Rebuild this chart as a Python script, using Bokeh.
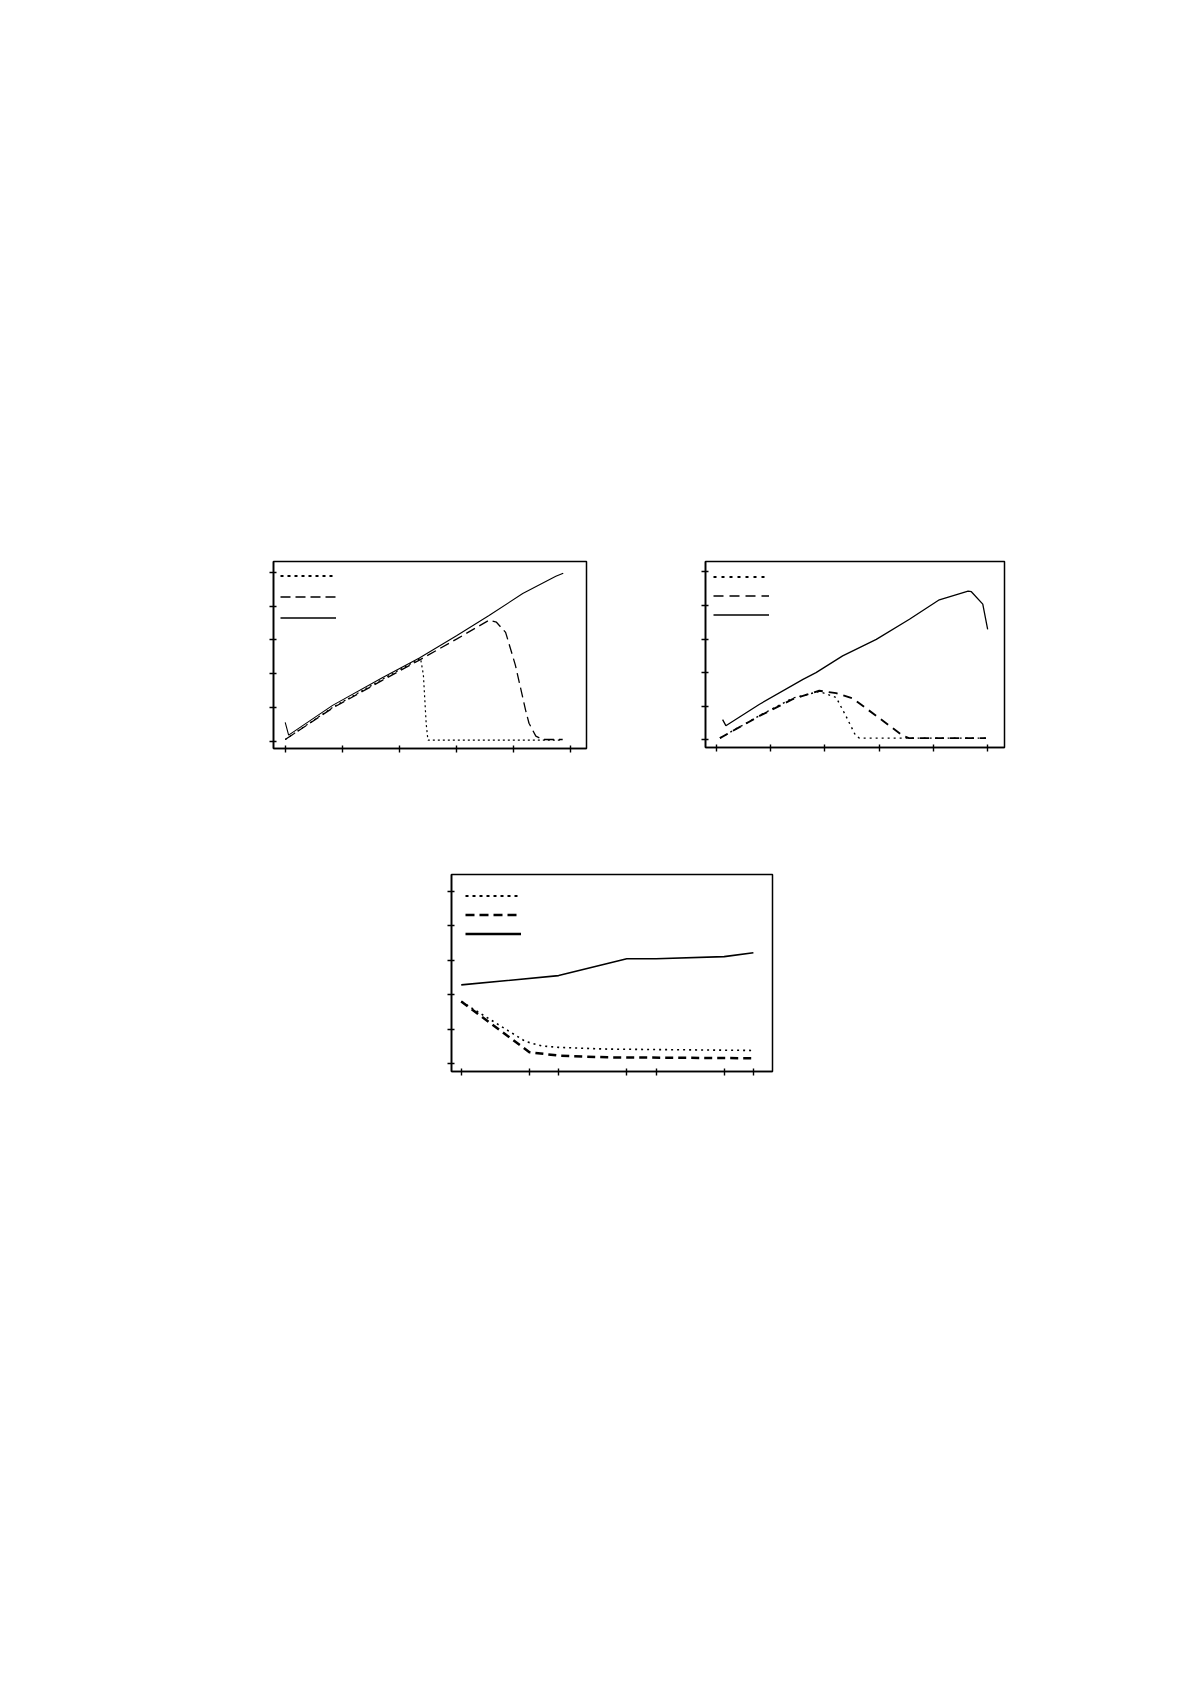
from bokeh.plotting import figure
from bokeh.models import Range1d, FixedTicker, Legend, LegendItem, Spacer
from bokeh.layouts import column, row
from bokeh.embed import file_html
from bokeh.resources import INLINE

# ---------------- data ----------------
# Chart 1
c1_solid_x = [0, 0.06, 0.83, 1.70, 2.35, 3.0, 3.57, 4.16, 4.74, 4.87]
c1_solid_y = [0.56, 0.18, 1.06, 1.88, 2.46, 3.12, 3.72, 4.37, 4.88, 4.97]
c1_dash_x = [0, 0.83, 1.70, 2.35, 3.0, 3.57, 3.70, 3.86, 4.03, 4.21, 4.27, 4.39, 4.51, 4.86]
c1_dash_y = [0.05, 0.98, 1.80, 2.40, 3.02, 3.58, 3.52, 3.22, 2.26, 0.92, 0.53, 0.15, 0.05, 0.05]
c1_dot_x = [0, 0.83, 1.70, 2.37, 2.42, 2.47, 2.50, 4.86]
c1_dot_y = [0.05, 1.0, 1.83, 2.45, 1.97, 0.50, 0.03, 0.03]

# Chart 2
c2_solid_x = [0.12, 0.18, 0.8, 1.6, 1.84, 2.33, 2.95, 3.56, 4.11, 4.64, 4.70, 4.91, 5.0]
c2_solid_y = [0.60, 0.42, 1.06, 1.80, 2.0, 2.5, 2.99, 3.59, 4.17, 4.43, 4.41, 4.04, 3.29]
c2_dash_x = [0.07, 0.8, 1.41, 1.9, 2.21, 2.52, 2.95, 3.44, 3.55, 4.97]
c2_dash_y = [0.05, 0.71, 1.21, 1.46, 1.39, 1.23, 0.71, 0.12, 0.05, 0.05]
c2_dot_x = [0.07, 0.8, 1.41, 1.9, 2.21, 2.39, 2.57, 2.64, 4.97]
c2_dot_y = [0.05, 0.72, 1.24, 1.44, 1.26, 0.71, 0.12, 0.05, 0.05]

# Chart 3
c3_ticks_x = [0, 70, 100, 170, 200, 270, 300]
c3_solid_x = [0, 100, 170, 200, 270, 300]
c3_solid_y = [2.29, 2.56, 3.05, 3.05, 3.11, 3.22]
c3_dash_x = [0, 70, 100, 150, 300]
c3_dash_y = [1.81, 0.34, 0.24, 0.19, 0.165]
c3_dot_x = [0, 66, 83, 100, 148, 300]
c3_dot_y = [1.81, 0.65, 0.52, 0.48, 0.43, 0.39]

ticks_0_5 = [0, 1, 2, 3, 4, 5]
NAN = float("nan")


def make_fig(w, h, xr, yr, xticks, yticks, mb_top=20):
    p = figure(width=w, height=h, x_range=Range1d(*xr), y_range=Range1d(*yr),
               output_backend="svg", toolbar_location=None,
               min_border_left=20, min_border_right=20,
               min_border_top=mb_top, min_border_bottom=20)
    p.grid.visible = False
    p.outline_line_color = "black"
    p.outline_line_width = 1.5
    p.outline_line_alpha = 1.0
    p.background_fill_color = "white"
    p.border_fill_color = "white"
    p.xaxis.ticker = FixedTicker(ticks=xticks, minor_ticks=[])
    p.yaxis.ticker = FixedTicker(ticks=yticks, minor_ticks=[])
    for ax in (p.xaxis, p.yaxis):
        ax.axis_line_width = 1.6
        ax.axis_line_color = "black"
        ax.major_tick_in = 3
        ax.major_tick_out = 4
        ax.major_tick_line_width = 1.4
        ax.major_tick_line_color = "black"
        ax.minor_tick_in = 0
        ax.minor_tick_out = 0
        ax.major_label_text_font_size = "0px"
        ax.major_label_standoff = 0
    return p


def add_legend(p, styles, margin, padding, spacing):
    # legend-only proxy renderers (a single empty point each), styled like the keys
    rs = [p.line([NAN], [NAN], line_color="black", **st) for st in styles]
    leg = Legend(items=[LegendItem(label=" ", renderers=[r]) for r in rs],
                 location="top_left", glyph_width=56, glyph_height=15,
                 label_height=15, label_width=1, spacing=spacing,
                 label_text_font_size="1px", label_standoff=0,
                 margin=margin, padding=padding,
                 background_fill_alpha=0, border_line_alpha=0)
    p.add_layout(leg)


# ---------------- chart 1 ----------------
p1 = make_fig(353, 232, (-0.205, 5.277), (-0.216, 5.317), ticks_0_5, ticks_0_5)
p1.line(c1_dot_x, c1_dot_y, line_color="black", line_width=1.2, line_dash="2 3")
p1.line(c1_dash_x, c1_dash_y, line_color="black", line_width=1.3, line_dash="10 5")
p1.line(c1_solid_x, c1_solid_y, line_color="black", line_width=1.1)
add_legend(p1, [dict(line_width=2.2, line_dash="3 4"),
                dict(line_width=1.3, line_dash="10 5"),
                dict(line_width=1.3)], 2, 5, 6)

# ---------------- chart 2 ----------------
p2 = make_fig(339, 231, (-0.195, 5.31), (-0.23, 5.31), ticks_0_5, ticks_0_5, mb_top=25)
p2.line(c2_dot_x, c2_dot_y, line_color="black", line_width=1.4, line_dash="2 4")
p2.line(c2_dash_x, c2_dash_y, line_color="black", line_width=1.9, line_dash="9 6")
p2.line(c2_solid_x, c2_solid_y, line_color="black", line_width=1.3)
add_legend(p2, [dict(line_width=2.2, line_dash="3 5"),
                dict(line_width=1.3, line_dash="10 6"),
                dict(line_width=1.3)], 2, 6, 4)

# ---------------- chart 3 ----------------
p3 = make_fig(361, 237, (-10, 319.6), (-0.22, 5.49), c3_ticks_x, ticks_0_5)
p3.line(c3_dot_x, c3_dot_y, line_color="black", line_width=1.6, line_dash="2 4")
p3.line(c3_dash_x, c3_dash_y, line_color="black", line_width=2.5, line_dash="8 5")
p3.line(c3_solid_x, c3_solid_y, line_color="black", line_width=1.6)
add_legend(p3, [dict(line_width=2.2, line_dash="3 4"),
                dict(line_width=2.6, line_dash="9 5"),
                dict(line_width=2.4)], 6, 8, 4)

layout = column(
    Spacer(width=10, height=536),
    row(Spacer(width=253, height=10), p1, Spacer(width=79, height=10), p2),
    Spacer(width=10, height=86),
    row(Spacer(width=431, height=10), p3),
)

open("out.html", "w").write(file_html(layout, INLINE))
